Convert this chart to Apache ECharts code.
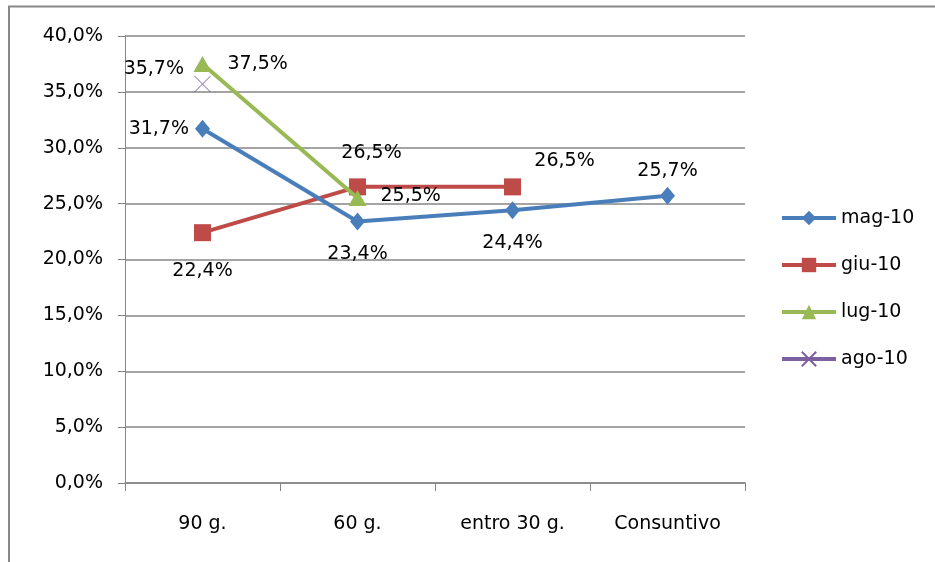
<!DOCTYPE html>
<html>
<head>
<meta charset="utf-8">
<script src="https://cdn.jsdelivr.net/npm/echarts@6/dist/echarts.min.js"></script>
<style>
html,body{margin:0;padding:0;background:#fff;}
#c{width:935px;height:562px;}
</style>
</head>
<body>
<div id="c"></div>
<script>
var categories = ['90 g.', '60 g.', 'entro 30 g.', 'Consuntivo'];
var seriesNames = ['mag-10', 'giu-10', 'lug-10', 'ago-10'];
var mag10 = [31.7, 23.4, 24.4, 25.7];
var giu10 = [22.4, 26.5, 26.5, null];
var lug10 = [37.5, 25.5, null, null];
var ago10 = [35.7, null, null, null];
var yTicks = [0, 5, 10, 15, 20, 25, 30, 35, 40];

var FONT = 'DejaVu Sans';
var FS = 19;
function pct(v){ return v.toFixed(1).replace('.', ',') + '%'; }

// label placement per point (style only)
var magLabels = [
  {position: 'left', distance: 6},
  {position: 'bottom', distance: 14},
  {position: 'bottom', distance: 14},
  {position: 'top', distance: 6}
];
var giuLabels = [
  {position: 'bottom', distance: 20},
  {position: 'top', distance: 16, offset: [14, 0]},
  {position: 'top', distance: 8, offset: [52, 0]},
  null
];
var lugLabels = [
  {position: 'right', distance: 16},
  {position: 'right', distance: 14, offset: [0, -2]},
  null, null
];
var agoLabels = [
  {position: 'left', distance: 8, offset: [0, -15]},
  null, null, null
];

function build(values, labels){
  return values.map(function(v, i){
    if (v === null) return null;
    var l = labels[i] || {};
    return {value: v, label: Object.assign({show: true}, l)};
  });
}

var labelStyle = {
  show: true, color: '#000', fontFamily: FONT, fontSize: FS,
  formatter: function(p){ return pct(p.value); }
};

var chart = echarts.init(document.getElementById('c'));
chart.setOption({
  animation: false,
  backgroundColor: '#fff',
  graphic: [{
    type: 'rect', silent: true,
    shape: {x: 9, y: 6.5, width: 1200, height: 1200},
    style: {fill: 'none', stroke: '#878787', lineWidth: 2}
  }],
  grid: {left: 125, top: 36, width: 620, height: 447},
  legend: {
    orient: 'vertical', left: 775, top: 203,
    itemWidth: 54, itemHeight: 18, itemGap: 27,
    lineStyle: {width: 4},
    textStyle: {fontFamily: FONT, fontSize: FS, color: '#000', lineHeight: 20},
    data: seriesNames
  },
  xAxis: {
    type: 'category', data: categories, boundaryGap: true,
    axisLine: {lineStyle: {color: '#868686', width: 1.5}},
    axisTick: {show: true, length: 8, lineStyle: {color: '#868686'}},
    axisLabel: {color: '#000', fontFamily: FONT, fontSize: FS, margin: 32}
  },
  yAxis: {
    type: 'value', min: 0, max: 40, interval: 5,
    axisLine: {show: true, lineStyle: {color: '#868686', width: 1}},
    axisTick: {show: true, length: 7, lineStyle: {color: '#868686'}},
    splitLine: {show: true, lineStyle: {color: '#868686', width: 1.5}},
    axisLabel: {color: '#000', fontFamily: FONT, fontSize: FS, margin: 22,
      formatter: function(v){ return pct(v); }}
  },
  series: [
    {
      name: seriesNames[0], type: 'line', data: build(mag10, magLabels),
      symbol: 'diamond', symbolSize: [15, 18],
      lineStyle: {color: '#4a7ebb', width: 4},
      itemStyle: {color: '#4a7ebb'},
      label: labelStyle, z: 4
    },
    {
      name: seriesNames[1], type: 'line', data: build(giu10, giuLabels),
      symbol: 'rect', symbolSize: 17,
      lineStyle: {color: '#be4b48', width: 4},
      itemStyle: {color: '#be4b48'},
      label: labelStyle, z: 3
    },
    {
      name: seriesNames[2], type: 'line', data: build(lug10, lugLabels),
      symbol: 'triangle', symbolSize: [18, 16],
      lineStyle: {color: '#98b954', width: 4},
      itemStyle: {color: '#98b954'},
      label: labelStyle, z: 5
    },
    {
      name: seriesNames[3], type: 'line', data: build(ago10, agoLabels),
      symbol: 'path://M0,0L10,10M10,0L0,10', symbolSize: 16,
      lineStyle: {color: '#7d60a0', width: 4},
      itemStyle: {color: 'none', borderColor: '#7d60a0', borderWidth: 1},
      label: labelStyle, z: 2
    }
  ]
});
</script>
</body>
</html>
